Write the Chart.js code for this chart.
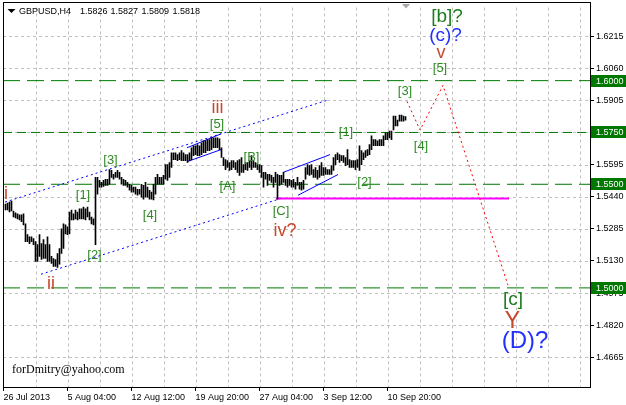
<!DOCTYPE html>
<html><head><meta charset="utf-8">
<script src="https://cdn.jsdelivr.net/npm/chart.js@4.4.1/dist/chart.umd.min.js"></script>
<style>html,body{margin:0;padding:0;background:#fff;overflow:hidden}#wrap{width:626px;height:405px}</style>
</head><body><div id="wrap"><canvas id="c" width="626" height="405"></canvas></div>
<script>
// ---- data (H4 bars) ----
const highs = [
1.5404,1.5409,1.5414,1.5419,1.5371,1.5362,1.5357,1.5352,1.5352,1.5357,
1.5309,1.5257,1.5247,1.5247,1.5238,1.5223,1.5209,1.5257,1.5214,1.5233,
1.5209,1.5247,1.5209,1.5152,1.5142,1.5137,1.5166,1.5190,1.5285,1.5309,
1.5304,1.5295,1.5366,1.5376,1.5357,1.5376,1.5366,1.5381,1.5381,1.5390,
1.5381,1.5390,1.5366,1.5342,1.5333,1.5533,1.5533,1.5519,1.5509,1.5519,
1.5524,1.5524,1.5571,1.5567,1.5548,1.5557,1.5567,1.5557,1.5533,1.5524,
1.5519,1.5509,1.5500,1.5495,1.5486,1.5486,1.5476,1.5476,1.5500,1.5495,
1.5509,1.5486,1.5471,1.5462,1.5500,1.5533,1.5548,1.5533,1.5533,1.5543,
1.5595,1.5595,1.5605,1.5652,1.5652,1.5652,1.5643,1.5652,1.5662,1.5652,
1.5643,1.5643,1.5652,1.5676,1.5686,1.5686,1.5691,1.5686,1.5700,1.5710,
1.5710,1.5715,1.5715,1.5724,1.5724,1.5724,1.5724,1.5719,1.5676,1.5629,
1.5619,1.5614,1.5605,1.5614,1.5614,1.5605,1.5614,1.5619,1.5629,1.5595,
1.5605,1.5605,1.5614,1.5638,1.5614,1.5605,1.5595,1.5595,1.5590,1.5557,
1.5557,1.5548,1.5548,1.5543,1.5533,1.5557,1.5548,1.5543,1.5543,1.5557,
1.5524,1.5524,1.5524,1.5519,1.5524,1.5509,1.5533,1.5509,1.5509,1.5519,
1.5581,1.5595,1.5590,1.5595,1.5571,1.5581,1.5567,1.5590,1.5605,1.5581,
1.5581,1.5571,1.5571,1.5590,1.5629,1.5643,1.5652,1.5643,1.5638,1.5638,
1.5629,1.5667,1.5619,1.5614,1.5614,1.5614,1.5619,1.5686,1.5662,1.5652,
1.5662,1.5667,1.5691,1.5734,1.5715,1.5715,1.5710,1.5715,1.5715,1.5734,
1.5748,1.5748,1.5757,1.5757,1.5829,1.5829,1.5810,1.5834,1.5834,1.5829,
1.5827];
const lows = [
1.5376,1.5376,1.5366,1.5371,1.5342,1.5338,1.5333,1.5328,1.5319,1.5304,
1.5223,1.5223,1.5214,1.5223,1.5209,1.5128,1.5128,1.5152,1.5137,1.5142,
1.5142,1.5128,1.5128,1.5118,1.5104,1.5104,1.5099,1.5114,1.5166,1.5190,
1.5261,1.5257,1.5261,1.5328,1.5328,1.5333,1.5328,1.5333,1.5333,1.5333,
1.5328,1.5342,1.5328,1.5309,1.5304,1.5209,1.5452,1.5486,1.5486,1.5490,
1.5495,1.5495,1.5500,1.5533,1.5524,1.5533,1.5533,1.5524,1.5500,1.5495,
1.5495,1.5486,1.5471,1.5462,1.5462,1.5452,1.5447,1.5452,1.5438,1.5428,
1.5438,1.5438,1.5428,1.5428,1.5424,1.5452,1.5500,1.5500,1.5500,1.5500,
1.5524,1.5519,1.5533,1.5581,1.5619,1.5619,1.5614,1.5619,1.5614,1.5614,
1.5614,1.5605,1.5614,1.5619,1.5638,1.5643,1.5638,1.5638,1.5643,1.5652,
1.5652,1.5662,1.5662,1.5667,1.5676,1.5676,1.5676,1.5667,1.5629,1.5590,
1.5571,1.5581,1.5567,1.5571,1.5581,1.5571,1.5557,1.5543,1.5557,1.5557,
1.5571,1.5567,1.5581,1.5571,1.5581,1.5581,1.5571,1.5557,1.5533,1.5486,
1.5524,1.5495,1.5519,1.5509,1.5486,1.5509,1.5428,1.5495,1.5500,1.5509,
1.5495,1.5486,1.5495,1.5486,1.5486,1.5476,1.5495,1.5476,1.5471,1.5476,
1.5524,1.5548,1.5543,1.5548,1.5533,1.5533,1.5524,1.5533,1.5543,1.5543,
1.5548,1.5548,1.5548,1.5548,1.5567,1.5595,1.5619,1.5605,1.5614,1.5605,
1.5590,1.5595,1.5581,1.5581,1.5581,1.5571,1.5581,1.5567,1.5595,1.5619,
1.5629,1.5638,1.5643,1.5667,1.5686,1.5686,1.5686,1.5686,1.5686,1.5686,
1.5715,1.5715,1.5724,1.5715,1.5762,1.5781,1.5781,1.5805,1.5805,1.5805,
1.5809];
const timeLabels = ["26 Jul 2013","5 Aug 04:00","12 Aug 12:00","19 Aug 20:00","27 Aug 04:00","3 Sep 12:00","10 Sep 20:00"];
const priceTicks = [1.6215,1.6060,1.5905,1.5750,1.5595,1.5440,1.5285,1.5130,1.4975,1.4820,1.4665];
const levels = [1.6000,1.5750,1.5500,1.5000];
const lastQuote = ["1.5826","1.5827","1.5809","1.5818"];
// forecast path (bar index, price)
const forecastX = [200.75,207.25,218.75,251.25];
const forecastY = [1.5900,1.5762,1.5977,1.5013];
// support line at the [C] low
const supportX = [135.25,251.75];
const supportY = [1.5431,1.5431];
// main channel (dotted)
const chanUpX = [-0.25,160.75], chanUpY = [1.5414,1.5905];
const chanLoX = [17.75,138.25], chanLoY = [1.5066,1.5433];
// small channels (solid)
const ch1UpX = [90.75,107.75], ch1UpY = [1.5676,1.5743];
const ch1LoX = [90.75,107.75], ch1LoY = [1.5609,1.5667];
const ch2UpX = [138.75,162.25], ch2UpY = [1.5557,1.5643];
const ch2LoX = [146.25,166.25], ch2LoY = [1.5447,1.5547];
// wave labels
const waveText = ['i','ii','iii','iv?','v','Y'];
const waveX    = [0.25,22.75,106,139.75,217.75,253.5];
const waveY    = [1.5452,1.5018,1.5869,1.5273,1.6134,1.4839];
const minorText = ['[1]','[2]','[3]','[4]','[5]','[A]','[B]','[C]','[1]','[2]','[3]','[4]','[5]'];
const minorX    = [38.75,44.5,52.5,72.25,105.75,111,123,137.75,170.25,179.5,199.75,207.75,217.25];
const minorY    = [1.5445,1.5159,1.5617,1.5349,1.5788,1.5492,1.5628,1.5368,1.5750,1.5509,1.5946,1.5683,1.6058];
const majorText = ['[b]?','[c]'];
const majorX = [220.75,253.75], majorY = [1.6306,1.4942];
const blueText = ['(c)?','(D)?'];
const blueX = [220,259.75], blueY = [1.6215,1.4741];

const X_MIN = -1.25, X_MAX = 292.25, Y_MIN = 1.45219, Y_MAX = 1.63533;
const gridIdx = []; for (let v = -1; v <= 290; v += 16) gridIdx.push(v);

const SANS = '"Liberation Sans", Arial, sans-serif';
const pts = (xs, ys) => xs.map((v, i) => ({x: v, y: ys[i]}));
const lineDs = (xs, ys, color, dash, w, order) => ({type:'line', data: pts(xs, ys), borderColor: color, borderDash: dash, borderWidth: w, pointRadius: 0, fill: false, tension: 0, order});

const datasets = [
  {type:'bar', data: highs.map((h, i) => ({x: i, y: [lows[i], h]})), backgroundColor:'#000', borderWidth:0, barThickness:1, grouped:false, order:0},
  lineDs(forecastX, forecastY, '#ff0000', [2,3], 1, 1),
  lineDs(supportX, supportY, '#ff00ff', [], 2, 2),
  lineDs(chanUpX, chanUpY, '#0000ff', [2,3], 1, 3),
  lineDs(chanLoX, chanLoY, '#0000ff', [2,3], 1, 3),
  lineDs(ch1UpX, ch1UpY, '#0000ff', [], 1, 3),
  lineDs(ch1LoX, ch1LoY, '#0000ff', [], 1, 3),
  lineDs(ch2UpX, ch2UpY, '#0000ff', [], 1, 3),
  lineDs(ch2LoX, ch2LoY, '#0000ff', [], 1, 3)
];
levels.forEach(l => datasets.push(lineDs([X_MIN, X_MAX], [l, l], '#007800', l === 1.5750 ? [9,5] : [17,7], 1, 6)));

const deco = {
  id: 'deco',
  beforeDraw(chart) {
    const c = chart.ctx; c.save(); c.fillStyle = '#fff'; c.fillRect(0, 0, chart.width, chart.height); c.restore();
  },
  beforeDatasetsDraw(chart) {
    // dashed grid from the scales' own ticks
    const c = chart.ctx, a = chart.chartArea, xs = chart.scales.x, ys = chart.scales.y;
    c.save();
    c.strokeStyle = '#c0c0c0'; c.lineWidth = 1; c.setLineDash([3, 3]);
    xs.ticks.forEach(t => {
      const px = Math.round(xs.getPixelForValue(t.value)) + 0.5;
      if (px < a.left + 2) return;
      c.beginPath(); c.moveTo(px, a.top); c.lineTo(px, a.bottom); c.stroke();
    });
    ys.ticks.forEach(t => {
      const py = Math.round(ys.getPixelForValue(t.value)) + 0.5;
      c.beginPath(); c.moveTo(a.left, py); c.lineTo(a.right, py); c.stroke();
    });
    c.restore();
  },
  afterDatasetsDraw(chart) {
    const c = chart.ctx, xs = chart.scales.x, ys = chart.scales.y;
    c.save();
    c.textAlign = 'center'; c.textBaseline = 'middle';
    const put = (txt, x, y, col, size) => { c.fillStyle = col; c.font = size + 'px ' + SANS; c.fillText(txt, xs.getPixelForValue(x), ys.getPixelForValue(y)); };
    waveText.forEach((t, i) => put(t, waveX[i], waveY[i], '#c8462c', t === 'Y' ? 23 : 18));
    minorText.forEach((t, i) => put(t, minorX[i], minorY[i], '#2f8a24', 13));
    majorText.forEach((t, i) => put(t, majorX[i], majorY[i], '#1d7d1d', 19));
    put(blueText[0], blueX[0], blueY[0], '#2230ff', 19);
    put(blueText[1], blueX[1], blueY[1], '#2230ff', 24);
    c.restore();
  },
  afterDraw(chart) {
    const c = chart.ctx, ys = chart.scales.y;
    c.save();
    // frame
    c.strokeStyle = '#000'; c.lineWidth = 1;
    c.strokeRect(3.5, 2.5, 587, 385);
    // level price boxes
    c.font = '9px ' + SANS; c.textBaseline = 'middle'; c.textAlign = 'left';
    levels.forEach(l => {
      const py = Math.round(ys.getPixelForValue(l));
      c.fillStyle = '#007800'; c.fillRect(591, py - 6, 35, 12);
      c.fillStyle = '#fff'; c.fillText(l.toFixed(4), 596, py + 0.5);
    });
    // title
    c.fillStyle = '#000';
    c.beginPath(); c.moveTo(7.5, 9); c.lineTo(15.5, 9); c.lineTo(11.5, 13); c.closePath(); c.fill();
    c.font = '9px ' + SANS; c.textBaseline = 'alphabetic';
    c.fillText('GBPUSD,H4', 19, 14);
    const qx = [80, 110.5, 141.5, 172.5];
    lastQuote.forEach((q, i) => c.fillText(q, qx[i], 14));
    // shift marker
    c.fillStyle = '#a8a8a8';
    c.beginPath(); c.moveTo(402, 4); c.lineTo(410, 4); c.lineTo(406, 8.5); c.closePath(); c.fill();
    // watermark
    c.fillStyle = '#000'; c.font = '12px "Liberation Serif", "Times New Roman", serif';
    c.fillText('forDmitry@yahoo.com', 12, 373);
    c.restore();
  }
};

new Chart(document.getElementById('c'), {
  type: 'bar',
  data: { datasets },
  options: {
    responsive: false, animation: false, devicePixelRatio: 1,
    layout: { padding: { left: 3, top: 3, right: 0, bottom: 0 } },
    plugins: { legend: { display: false }, tooltip: { enabled: false } },
    scales: {
      x: {
        type: 'linear', min: X_MIN, max: X_MAX, offset: false, position: 'bottom',
        afterBuildTicks: s => { s.ticks = gridIdx.map(v => ({ value: v })); },
        afterFit: s => { s.height = 18; },
        ticks: {
          autoSkip: false, maxRotation: 0, minRotation: 0, align: 'start', padding: 1,
          color: '#000', font: { size: 9, family: SANS },
          callback: (v, i) => (i % 2 === 0 && i / 2 < timeLabels.length) ? timeLabels[i / 2] : ''
        },
        grid: {
          offset: false, drawOnChartArea: false, lineWidth: 1, tickLength: 4,
          tickColor: ctx => (ctx.index % 2 === 0 && ctx.index / 2 < timeLabels.length) ? '#000' : 'rgba(0,0,0,0)'
        },
        border: { display: false }
      },
      y: {
        type: 'linear', position: 'right', min: Y_MIN, max: Y_MAX,
        afterBuildTicks: s => { s.ticks = priceTicks.map(v => ({ value: v })); },
        afterFit: s => { s.width = 36; },
        ticks: { padding: 2, color: '#000', font: { size: 9, family: SANS }, callback: v => Number(v).toFixed(4) },
        grid: { drawOnChartArea: false, lineWidth: 1, tickLength: 4, tickColor: '#000' },
        border: { display: false }
      }
    }
  },
  plugins: [deco]
});
</script></body></html>
